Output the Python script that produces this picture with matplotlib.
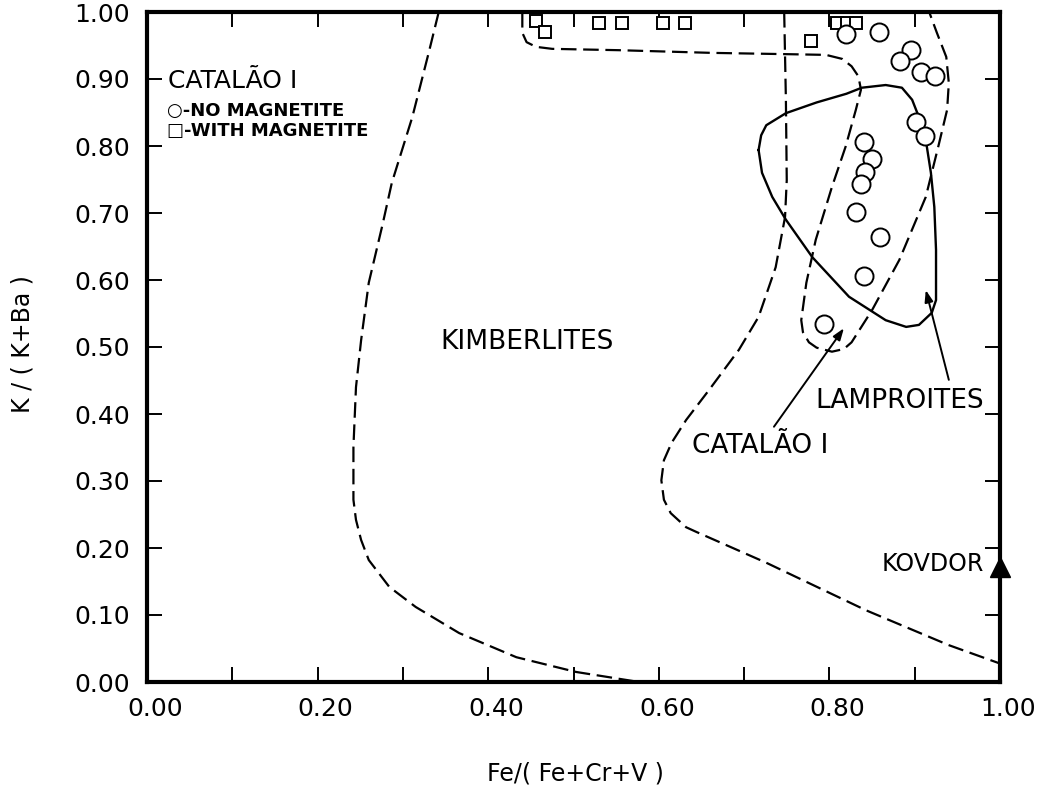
import matplotlib
matplotlib.use("Agg")
import matplotlib.pyplot as plt
import matplotlib.transforms as mtrans
from matplotlib.ticker import MultipleLocator, FixedLocator, FixedFormatter

# field boundaries
kimb_x = [0.342, 0.331, 0.311, 0.287, 0.276, 0.260, 0.251, 0.245, 0.242, 0.242,
          0.245, 0.251, 0.260, 0.284, 0.315, 0.366, 0.433, 0.503, 0.577]
kimb_y = [1.000, 0.943, 0.843, 0.745, 0.682, 0.596, 0.510, 0.440, 0.351, 0.272,
          0.242, 0.212, 0.182, 0.142, 0.112, 0.073, 0.037, 0.015, 0.000]

outer_x = [0.747, 0.749, 0.750, 0.748, 0.737, 0.717, 0.694, 0.659, 0.632, 0.615,
           0.606, 0.603, 0.606, 0.614, 0.632, 0.644, 0.726, 0.843, 0.940, 0.999]
outer_y = [1.000, 0.869, 0.749, 0.694, 0.619, 0.545, 0.496, 0.436, 0.391, 0.357,
           0.331, 0.301, 0.272, 0.252, 0.231, 0.224, 0.178, 0.107, 0.055, 0.028]

cat_x = [0.440, 0.440, 0.445, 0.456, 0.475, 0.553, 0.662, 0.753, 0.796, 0.815,
         0.826, 0.834, 0.837, 0.831, 0.819, 0.803, 0.784, 0.773, 0.767, 0.769,
         0.776, 0.785, 0.803, 0.817, 0.826, 0.850, 0.882, 0.913, 0.928, 0.938,
         0.940, 0.937, 0.926, 0.917]
cat_y = [1.000, 0.969, 0.955, 0.948, 0.945, 0.943, 0.939, 0.937, 0.936, 0.930,
         0.919, 0.904, 0.884, 0.854, 0.799, 0.739, 0.660, 0.596, 0.540, 0.522,
         0.507, 0.499, 0.493, 0.497, 0.507, 0.555, 0.630, 0.724, 0.801, 0.854,
         0.894, 0.933, 0.969, 1.000]

lamp_x = [0.717, 0.720, 0.726, 0.749, 0.785, 0.820, 0.838, 0.866, 0.885, 0.897,
          0.905, 0.913, 0.919, 0.923, 0.925, 0.925, 0.920, 0.905, 0.890, 0.866,
          0.823, 0.780, 0.749, 0.733, 0.721, 0.717]
lamp_y = [0.794, 0.816, 0.831, 0.849, 0.865, 0.878, 0.887, 0.891, 0.887, 0.869,
          0.843, 0.809, 0.760, 0.709, 0.645, 0.570, 0.551, 0.533, 0.530, 0.540,
          0.575, 0.634, 0.690, 0.724, 0.760, 0.794]

# Catalao I samples
no_mag_x = [0.819, 0.858, 0.896, 0.883, 0.907, 0.924, 0.902, 0.912, 0.841, 0.850,
            0.842, 0.837, 0.831, 0.859, 0.841, 0.794]
no_mag_y = [0.967, 0.970, 0.944, 0.927, 0.911, 0.905, 0.836, 0.815, 0.806, 0.781,
            0.761, 0.743, 0.702, 0.664, 0.606, 0.535]
mag_x = [0.456, 0.467, 0.530, 0.557, 0.605, 0.631, 0.779, 0.809, 0.821, 0.831]
mag_y = [0.987, 0.970, 0.984, 0.984, 0.984, 0.984, 0.957, 0.984, 0.984, 0.984]

kovdor_x = [1.0]
kovdor_y = [0.172]

xtick_vals = [0.0, 0.2, 0.4, 0.6, 0.8, 1.0]
xtick_labels = ["0.00", "0.20", "0.40", "0.60", "0.80", "1.00"]
ytick_vals = [0.0, 0.1, 0.2, 0.3, 0.4, 0.5, 0.6, 0.7, 0.8, 0.9, 1.0]
ytick_labels = ["0.00", "0.10", "0.20", "0.30", "0.40", "0.50",
                "0.60", "0.70", "0.80", "0.90", "1.00"]

fig = plt.figure(figsize=(10.55, 7.95), dpi=100)
ax = fig.add_axes([147 / 1055, 1 - 682 / 795, 853 / 1055, 670 / 795])

dash = (0, (7, 3))
ax.plot(kimb_x, kimb_y, color="k", ls=dash, lw=1.6)
ax.plot(outer_x, outer_y, color="k", ls=dash, lw=1.6)
ax.plot(cat_x, cat_y, color="k", ls=dash, lw=1.6)
ax.plot(lamp_x, lamp_y, color="k", ls="-", lw=1.7)

ax.plot(mag_x, mag_y, "s", ms=8.5, mfc="white", mec="k", mew=1.4, ls="none",
        clip_on=False, zorder=3)
ax.plot(no_mag_x, no_mag_y, "o", ms=13, mfc="white", mec="k", mew=1.4, ls="none",
        zorder=4)
ax.plot(kovdor_x, kovdor_y, "^", ms=14, color="k", clip_on=False, zorder=5)

ax.set_xlim(0, 1)
ax.set_ylim(0, 1)

ax.xaxis.set_major_locator(FixedLocator(xtick_vals))
ax.xaxis.set_major_formatter(FixedFormatter(xtick_labels))
ax.xaxis.set_minor_locator(MultipleLocator(0.1))
ax.yaxis.set_major_locator(FixedLocator(ytick_vals))
ax.yaxis.set_major_formatter(FixedFormatter(ytick_labels))
ax.tick_params(which="both", direction="in", length=11, width=1.4,
               top=True, right=True)
ax.tick_params(axis="x", labelsize=18, pad=11)
ax.tick_params(axis="y", labelsize=18, pad=12)
for s in ax.spines.values():
    s.set_linewidth(3)

offset = mtrans.ScaledTranslation(8 / 100, 0, fig.dpi_scale_trans)
for lbl in ax.get_xticklabels():
    lbl.set_transform(lbl.get_transform() + offset)

ax.set_xlabel("Fe/( Fe+Cr+V )", fontsize=17, va="center")
ax.set_ylabel("K / ( K+Ba )", fontsize=17, va="center")
ax.xaxis.set_label_coords(0.502, -0.136)
ax.yaxis.set_label_coords(-0.146, 0.505)

ax.text(0.025, 0.897, "CATALÃO I", fontsize=18, va="center", ha="left")
ax.text(0.023, 0.852, "○-NO MAGNETITE", fontsize=13, weight="bold",
        va="center", ha="left")
ax.text(0.023, 0.822, "□-WITH MAGNETITE", fontsize=13, weight="bold",
        va="center", ha="left")
ax.text(0.445, 0.507, "KIMBERLITES", fontsize=19, va="center", ha="center")
ax.text(0.882, 0.419, "LAMPROITES", fontsize=19, va="center", ha="center")
ax.text(0.719, 0.352, "CATALÃO I", fontsize=19, va="center", ha="center")
ax.text(0.981, 0.176, "KOVDOR", fontsize=17, va="center", ha="right")

arrow = dict(arrowstyle="-|>,head_length=0.7,head_width=0.25", color="k",
             lw=1.4, shrinkA=0, shrinkB=0)
ax.annotate("", xy=(0.913, 0.585), xytext=(0.940, 0.451), arrowprops=arrow)
ax.annotate("", xy=(0.817, 0.528), xytext=(0.735, 0.381), arrowprops=arrow)

fig.savefig("out.png", dpi=100)
